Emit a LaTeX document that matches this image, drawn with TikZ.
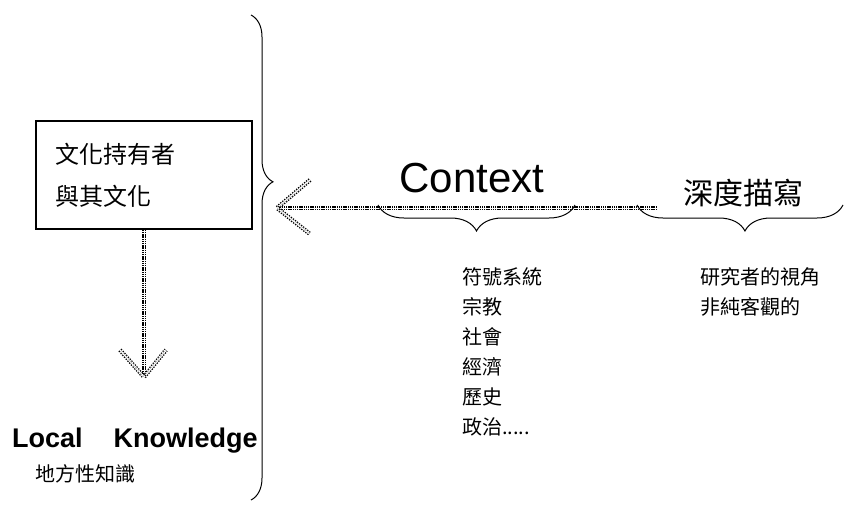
\documentclass[tikz,border=0pt]{standalone}
\usepackage{fontspec}
\setmainfont{Liberation Sans}
\newfontfamily\cjk{Noto Sans CJK TC}
\usepackage{tikz}
\usetikzlibrary{decorations.pathreplacing,positioning}

\tikzset{
  dotline/.style={double, double distance=0.8pt, line width=1.6pt, dash pattern=on 1.5pt off 0.7pt},
  dothead/.style={double, double distance=1.6pt, line width=1.3pt, dash pattern=on 1.3pt off 1.3pt},
  bigbrace/.style={decorate, decoration={brace, amplitude=#1}, line width=1pt},
  cjklist/.style={font=\cjk\fontsize{20}{30}\selectfont, align=left, inner sep=0pt}
}

\begin{document}
\begin{tikzpicture}[x=1pt, y=-1pt]
      \useasboundingbox (0,0) rectangle (845,504);
      \node [draw, line width=1.5pt, minimum height=108pt, text width=178pt, inner xsep=19pt, align=left,
             font=\cjk\fontsize{24}{42}\selectfont] (holder) at (144,175) {文化持有者\\與其文化};
      \coordinate (localtip) at (144,377);
      \draw [dotline] (holder.south) -- (localtip);
      \draw [dothead] (localtip) ++(-24,-27) -- (localtip) -- ++(22,-27);
      \node [anchor=base west, inner sep=0pt, font=\bfseries\fontsize{27}{30}\selectfont] (local) at (12,447)
            {Local\hspace{31pt}Knowledge};
      \node [anchor=west, cjklist] (localzh) at (35,474) {地方性知識};
      \draw [bigbrace=22, decoration={aspect=0.344}] (251,15) -- (251,500);
      \coordinate (ctxend) at (657,208);
      \coordinate (ctxtip) at (277,208);
      \draw [dotline] (ctxend) -- (ctxtip);
      \draw [dothead] (ctxtip) ++(33,-28) -- (ctxtip) -- ++(33,26);
      \node [font=\fontsize{42}{50}\selectfont] (context) at (472,178) {Context};
      \node [font=\cjk\fontsize{30}{36}\selectfont] (thick) at (743,193) {深度描寫};
      \draw [bigbrace=26] (575,205) -- (378,205);
      \draw [bigbrace=26, decoration={aspect=0.476}] (843,205) -- (637,205);
      \node [anchor=north west, cjklist] (symbols) at (462,267)
            {符號系統\\宗教\\社會\\經濟\\歷史\\政治.....};
      \node [anchor=north west, cjklist] (view) at (700,267)
            {研究者的視角\\非純客觀的};
\end{tikzpicture}
\end{document}
